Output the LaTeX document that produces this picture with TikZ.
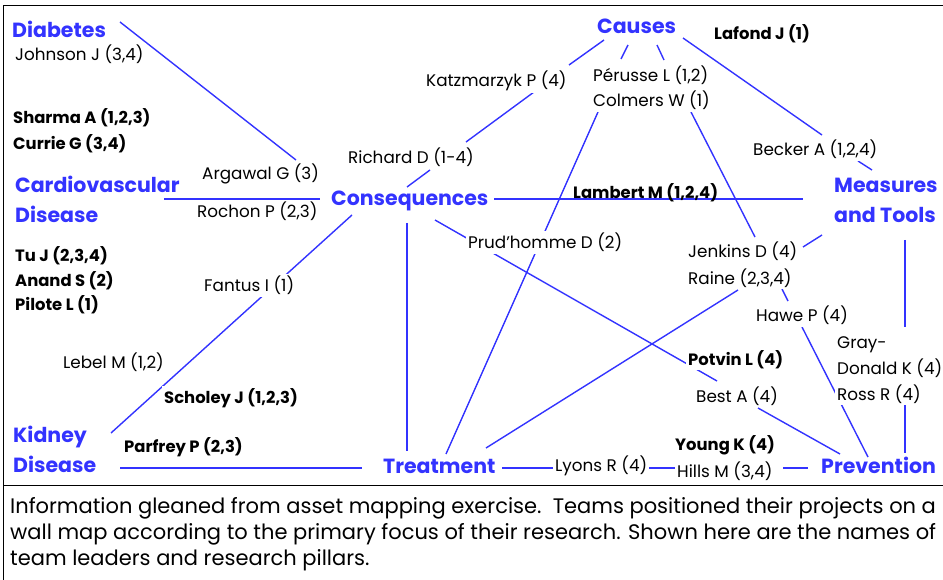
\documentclass[tikz,border=0pt]{standalone}
\usepackage{fontspec}
\setmainfont{Poppins}

\definecolor{pillarblue}{RGB}{51,51,255}

\tikzset{
    pillar/.style = {text = pillarblue, inner sep = 0pt, align = left,
        font = \bfseries\fontsize{20.5}{30}\selectfont},
    team/.style = {fill = white, inner sep = 2pt, xshift = -2pt, align = left,
        font = \fontsize{16.8}{26}\selectfont},
    leader/.style = {team, font = \bfseries\fontsize{16.4}{26}\selectfont},
    link/.style = {draw = pillarblue, line width = 1.4pt}
}

\begin{document}
\begin{tikzpicture}[x = 1pt, y = -1pt]

        \useasboundingbox (0, 0) rectangle (943, 580);

        % Frame of the map and of the caption.
        \draw[line width = 1pt] (943, 6) -- (3, 6) -- (3, 580);
        \draw[line width = 1pt] (3, 485) -- (943, 485);

        % Ends of the connectors.
        \coordinate (diabE)   at (120, 22);
        \coordinate (argN)    at (296, 160);
        \coordinate (cardE)   at (164, 199);
        \coordinate (consW)   at (320, 199);
        \coordinate (consE)   at (494, 199);
        \coordinate (measW)   at (803, 199);
        \coordinate (consN)   at (407, 187);
        \coordinate (richS)   at (430, 170);
        \coordinate (richN)   at (466, 142);
        \coordinate (katzS)   at (534, 92);
        \coordinate (katzN)   at (569, 65);
        \coordinate (causSW)  at (604, 40);
        \coordinate (perA)    at (621, 59);
        \coordinate (causA)   at (628, 45);
        \coordinate (causB)   at (657, 45);
        \coordinate (perB)    at (664, 60);
        \coordinate (causE)   at (683, 38);
        \coordinate (beckN)   at (822, 135);
        \coordinate (beckS)   at (858, 161);
        \coordinate (measN)   at (872, 170);
        \coordinate (colmA)   at (598, 112);
        \coordinate (treatN)  at (446, 454);
        \coordinate (colmB)   at (691, 112);
        \coordinate (jenkN)   at (755, 237);
        \coordinate (jenkE)   at (803, 247);
        \coordinate (measSW)  at (822, 235);
        \coordinate (measS)   at (905, 240);
        \coordinate (grayN)   at (905, 327);
        \coordinate (rossS)   at (905, 405);
        \coordinate (prevN)   at (905, 453);
        \coordinate (raineS)  at (782, 289);
        \coordinate (haweN)   at (788, 301);
        \coordinate (haweS)   at (802, 327);
        \coordinate (prevNW)  at (868, 457);
        \coordinate (bestS)   at (758, 408);
        \coordinate (prevW)   at (840, 454);
        \coordinate (raineW)  at (738, 290);
        \coordinate (treatNE) at (486, 448);
        \coordinate (consSE)  at (435, 220);
        \coordinate (bestN)   at (717, 381);
        \coordinate (consS)   at (407, 223);
        \coordinate (treatT)  at (407, 451);
        \coordinate (consSW)  at (352, 215);
        \coordinate (kidnE)   at (111, 433);
        \coordinate (kidnS)   at (120, 468);
        \coordinate (treatW)  at (362, 468);
        \coordinate (treatE)  at (502, 468);
        \coordinate (lyonW)   at (553, 468);
        \coordinate (lyonE)   at (647, 468);
        \coordinate (hillW)   at (675, 468);
        \coordinate (hillE)   at (783, 468);
        \coordinate (prevWW)  at (808, 468);

        % Connectors, drawn first so that the names cover them.
        \draw[link] (diabE) -- (argN);
        \draw[link] (cardE) -- (consW);
        \draw[link] (consE) -- (measW);
        \draw[link] (consN) -- (richS);
        \draw[link] (richN) -- (katzS);
        \draw[link] (katzN) -- (causSW);
        \draw[link] (perA) -- (causA);
        \draw[link] (causB) -- (perB);
        \draw[link] (causE) -- (beckN);
        \draw[link] (beckS) -- (measN);
        \draw[link] (colmA) -- (treatN);
        \draw[link] (colmB) -- (jenkN);
        \draw[link] (jenkE) -- (measSW);
        \draw[link] (measS) -- (grayN);
        \draw[link] (rossS) -- (prevN);
        \draw[link] (raineS) -- (haweN);
        \draw[link] (haweS) -- (prevNW);
        \draw[link] (bestS) -- (prevW);
        \draw[link] (raineW) -- (treatNE);
        \draw[link] (consSE) -- (bestN);
        \draw[link] (consS) -- (treatT);
        \draw[link] (consSW) -- (kidnE);
        \draw[link] (kidnS) -- (treatW);
        \draw[link] (treatE) -- (lyonW);
        \draw[link] (lyonE) -- (hillW);
        \draw[link] (hillE) -- (prevWW);

        % Research pillars (base of a two-line name is its last line).
        \node[pillar, anchor = base west] (diab) at (12, 38) {Diabetes};
        \node[pillar, anchor = base west] (causes) at (597, 34) {Causes};
        \node[pillar, anchor = base west] (cardio) at (15, 223) {Cardiovascular\\Disease};
        \node[pillar, anchor = base west] (conseq) at (331, 206) {Consequences};
        \node[pillar, anchor = base west] (measures) at (834, 223) {Measures\\and Tools};
        \node[pillar, anchor = base west] (kidney) at (13, 472) {Kidney\\Disease};
        \node[pillar, anchor = base west] (treat) at (383, 473) {Treatment};
        \node[pillar, anchor = base west] (prev) at (821, 473) {Prevention};

        % Team leaders.
        \node[team, anchor = base west] (johnson) at (15, 61) {Johnson J (3,4)};
        \node[leader, anchor = base west] (sharma) at (13, 124) {Sharma A (1,2,3)};
        \node[leader, anchor = base west] (currie) at (13, 150) {Currie G (3,4)};
        \node[team, anchor = base west] (argawal) at (202, 180) {Argawal G (3)};
        \node[team, anchor = base west] (rochon) at (197, 218) {Rochon P (2,3)};
        \node[team, anchor = base west] (richard) at (348, 164) {Richard D (1-4)};
        \node[team, anchor = base west] (katz) at (426, 87) {Katzmarzyk P (4)};
        \node[team, anchor = base west] (perusse) at (593, 82) {Pérusse L (1,2)};
        \node[team, anchor = base west] (colmers) at (593, 107) {Colmers W (1)};
        \node[leader, anchor = base west] (lafond) at (714, 40) {Lafond J (1)};
        \node[team, anchor = base west] (becker) at (753, 156) {Becker A (1,2,4)};
        \node[leader, anchor = base west, fill = none] (lambert) at (573, 199) {Lambert M (1,2,4)};
        \node[leader, anchor = base west] (tu) at (15, 262) {Tu J (2,3,4)};
        \node[leader, anchor = base west] (anand) at (15, 287) {Anand S (2)};
        \node[leader, anchor = base west] (pilote) at (15, 311) {Pilote L (1)};
        \node[team, anchor = base west] (fantus) at (204, 292) {Fantus I (1)};
        \node[team, anchor = base west] (lebel) at (63, 368) {Lebel M (1,2)};
        \node[leader, anchor = base west] (scholey) at (164, 403) {Scholey J (1,2,3)};
        \node[leader, anchor = base west] (parfrey) at (124, 452) {Parfrey P (2,3)};
        \node[team, anchor = base west] (prud) at (468, 249) {Prud’homme D (2)};
        \node[team, anchor = base west] (jenkins) at (688, 258) {Jenkins D (4)};
        \node[team, anchor = base west] (raine) at (688, 284) {Raine (2,3,4)};
        \node[team, anchor = base west] (hawe) at (756, 322) {Hawe P (4)};
        \node[team, anchor = base west] (gray) at (837, 374) {Gray-\\Donald K (4)};
        \node[team, anchor = base west] (ross) at (837, 400) {Ross R (4)};
        \node[leader, anchor = base west] (potvin) at (688, 365) {Potvin L (4)};
        \node[team, anchor = base west] (best) at (696, 402) {Best A (4)};
        \node[leader, anchor = base west] (young) at (675, 450) {Young K (4)};
        \node[team, anchor = base west] (lyons) at (555, 471) {Lyons R (4)};
        \node[team, anchor = base west] (hills) at (677, 477) {Hills M (3,4)};

        % Caption.
        \node[team, anchor = base west, font = \fontsize{21}{26}\selectfont] (caption) at (10, 565)
            {Information gleaned from asset mapping exercise.\ \ Teams positioned their projects on a\\
             wall map according to the primary focus of their research. Shown here are the names of\\
             team leaders and research pillars.};
    \end{tikzpicture}
\end{document}
